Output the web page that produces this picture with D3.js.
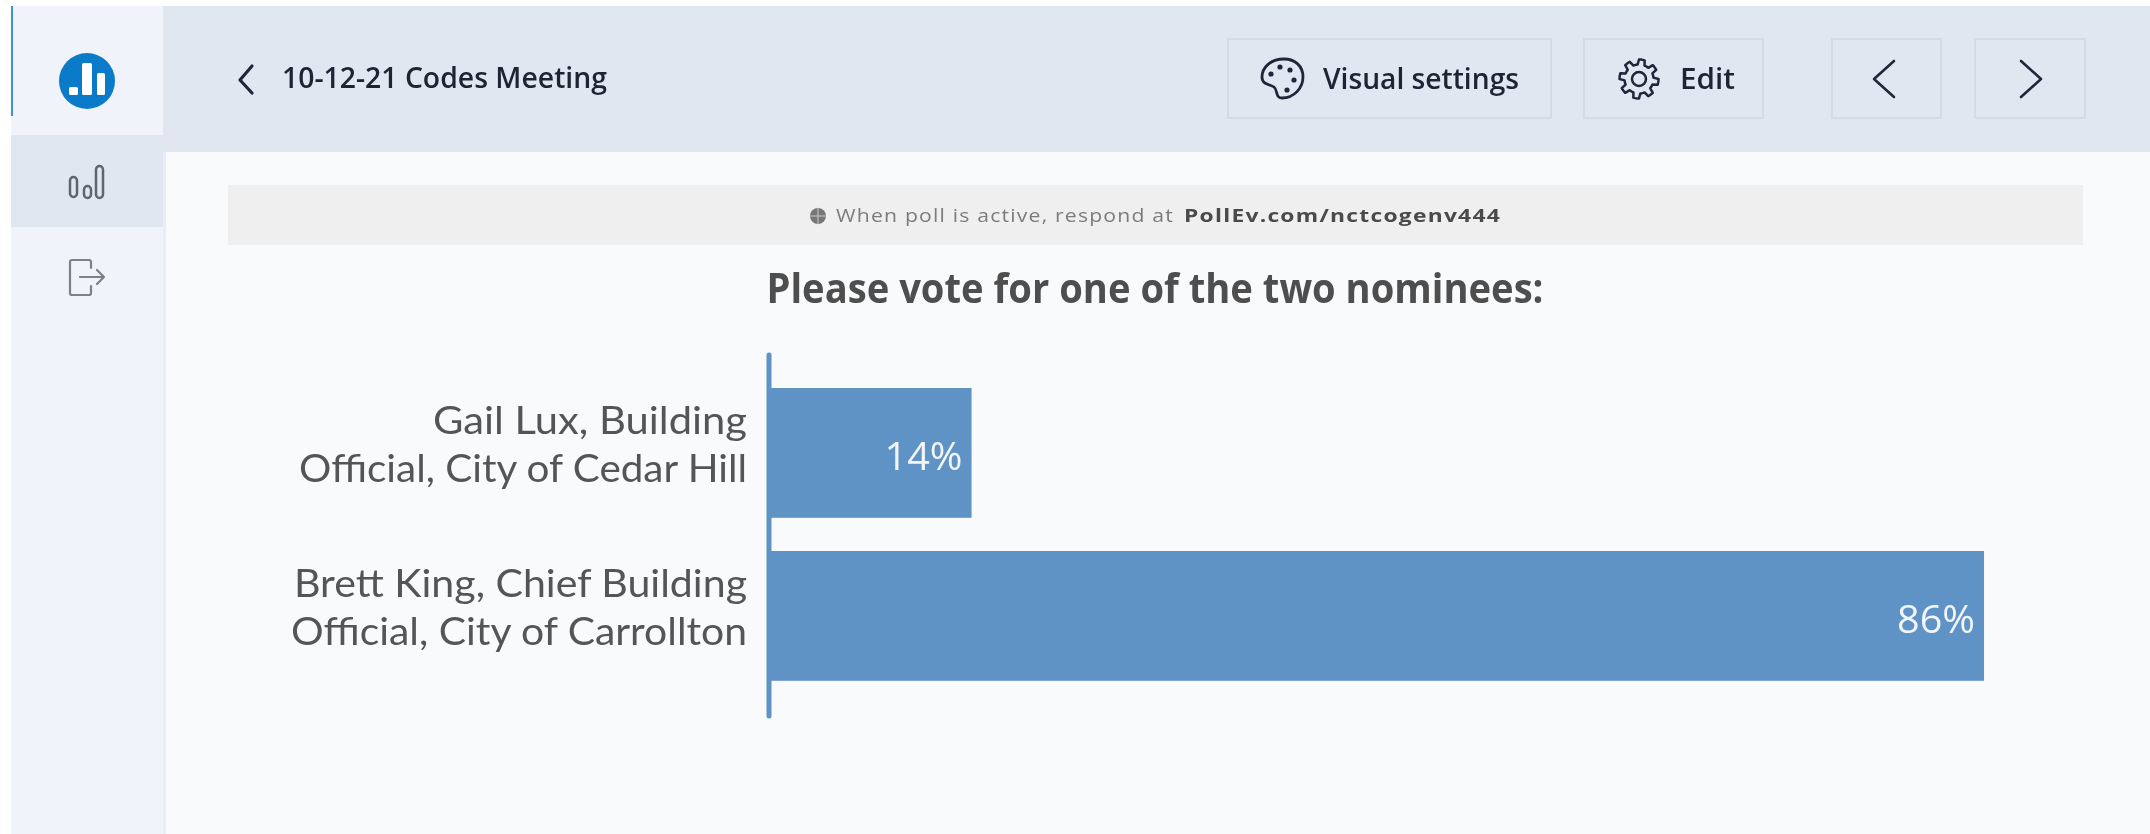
<!DOCTYPE html>
<html><head><meta charset="utf-8">
<script src="https://cdn.jsdelivr.net/npm/d3@7"></script>
<style>html,body{margin:0;background:#fff}svg{display:block;filter:blur(0.5px)}text{font-family:"Open Sans","Noto Sans",sans-serif}text.lbl{font-family:Lato,"Open Sans",sans-serif}</style>
</head><body><svg id="c" width="2150" height="834"></svg>
<script>
const categories = ["Gail Lux, Building Official, City of Cedar Hill","Brett King, Chief Building Official, City of Carrollton"];
const labelLines = [["Gail Lux, Building","Official, City of Cedar Hill"],["Brett King, Chief Building","Official, City of Carrollton"]];
const values = [14.29, 85.71];
const labelWidths = [[314,448],[453,456]];
const svg = d3.select("#c");
const rect=(x,y,w,h,f,s)=>svg.append("rect").attr("x",x).attr("y",y).attr("width",w).attr("height",h).attr("fill",f).attr("stroke",s||"none");
const txt=(x,y,t,o)=>{const e=svg.append("text").attr("x",x).attr("y",y).text(t).attr("font-size",o.size).attr("fill",o.fill).attr("text-anchor",o.anchor||"start").attr("font-weight",o.weight||400);
 if(o.len)e.attr("textLength",o.len).attr("lengthAdjust","spacingAndGlyphs");return e;};
// page frame
rect(11,6,2139,828,"#f9fafc");
rect(11,6,152,828,"#f0f4fa");
rect(163,6,1987,146,"#e1e7f0");
rect(163,136,2,16,"#e1e7f0");
rect(11,135,152,92,"#e1e7f0");
rect(11,6,2,110,"#3f8fdc");
rect(163,152,3,682,"#e9eef6");
// logo
svg.append("circle").attr("cx",87).attr("cy",81).attr("r",28).attr("fill","#0a7bc8");
[[69,87,9,8],[82,63,10,32],[97,73,8,22]].forEach(d=>rect(d[0],d[1],d[2],d[3],"#fff").attr("rx",1.5));
// sidebar icons
const ic=(d,w,c)=>svg.append("path").attr("d",d).attr("fill","none").attr("stroke",c||"#5d6570").attr("stroke-width",w||2).attr("stroke-linecap","round").attr("stroke-linejoin","round");
[[70,177,7,20],[84,186,7,12],[96,166,7,32]].forEach(d=>svg.append("rect").attr("x",d[0]).attr("y",d[1]).attr("width",d[2]).attr("height",d[3]).attr("rx",3.5).attr("fill","none").attr("stroke","#5d6570").attr("stroke-width",2.5));
ic("M91 268V262a2 2 0 0 0-2-2H72a2 2 0 0 0-2 2v31a2 2 0 0 0 2 2H89a2 2 0 0 0 2-2V286M80 277H104M97 270L104 277L97 284",2.2,"#7a818b");
// header
ic("M252 66L240 80L252 93",3.2,"#20263a");
txt(282,88,"10-12-21 Codes Meeting",{size:29,fill:"#1d2433",len:325,weight:600});
const btn=(x,w)=>rect(x,39,w,79,"none","#d3dbe7").attr("stroke-width",2);
btn(1228,323);btn(1584,179);btn(1832,109);btn(1975,110);
txt(1323,89,"Visual settings",{size:29,fill:"#1d2433",len:196,weight:600});
txt(1680,89,"Edit",{size:29,fill:"#1d2433",len:55,weight:600});
ic("M1284 59c-14 0-22 9-22 18c0 8 8 7 12 10c4 3 1 11 8 11c12 0 21-10 21-21c0-11-8-18-19-18z",2.8,"#20263a");
[[1271,74],[1280,67],[1290,70],[1294,80],[1287,90]].forEach(p=>svg.append("circle").attr("cx",p[0]).attr("cy",p[1]).attr("r",2.6).attr("fill","#20263a"));
const gearPts=d3.range(0,64).map(i=>[i/64*2*Math.PI, (i%8<4)?19.5:14.5]);
svg.append("path").attr("transform","translate(1639,79)").attr("d",d3.lineRadial().curve(d3.curveLinearClosed)(gearPts)).attr("fill","none").attr("stroke","#20263a").attr("stroke-width",2.5).attr("stroke-linejoin","round");
svg.append("circle").attr("cx",1639).attr("cy",79).attr("r",7).attr("fill","none").attr("stroke","#20263a").attr("stroke-width",2.5);
ic("M1894 61L1874 79L1894 97",2.6,"#20263a");
ic("M2021 61L2041 79L2021 97",2.6,"#20263a");
// notice
rect(228,185,1855,60,"#efefef");
svg.append("circle").attr("cx",818).attr("cy",216).attr("r",8).attr("fill","#777");
ic("M810 216H826M818 208V224",1,"#c8c8c8");
txt(836,222,"When poll is active, respond at",{size:18,fill:"#7c7c7c",len:338}).attr("letter-spacing",1);
txt(1184,222,"PollEv.com/nctcogenv444",{size:18,fill:"#4a4a4a",len:317,weight:700}).attr("letter-spacing",1);
// title
txt(1155,303,"Please vote for one of the two nominees:",{size:41,fill:"#4e4e4e",anchor:"middle",len:777,weight:700});
// chart
const x=d3.scaleLinear().domain([0,100]).range([769,769+1417.6]);
const y=d3.scaleBand().domain(categories).range([371.7,697.7]).paddingInner(0.2).paddingOuter(0.1);
svg.selectAll("rect.bar").data(values).join("rect").attr("class","bar").attr("x",x(0)).attr("y",(d,i)=>y(categories[i])).attr("width",d=>x(d)-x(0)).attr("height",y.bandwidth()-0.6).attr("fill","#5f92c5");
svg.append("line").attr("x1",769).attr("x2",769).attr("y1",355).attr("y2",716).attr("stroke","#5f92c5").attr("stroke-width",5).attr("stroke-linecap","round");
values.forEach((v,i)=>{const top=y(categories[i]);
 txt(x(v)-9,top+81.5,d3.format(".0f")(v)+"%",{size:39,fill:"#f2f6fb",anchor:"end",len:78,weight:500});
 labelLines[i].forEach((l,j)=>txt(747,top+(j?94:46),l,{size:39.5,fill:"#555",anchor:"end",len:labelWidths[i][j]}).attr("class","lbl"));
});
</script></body></html>
